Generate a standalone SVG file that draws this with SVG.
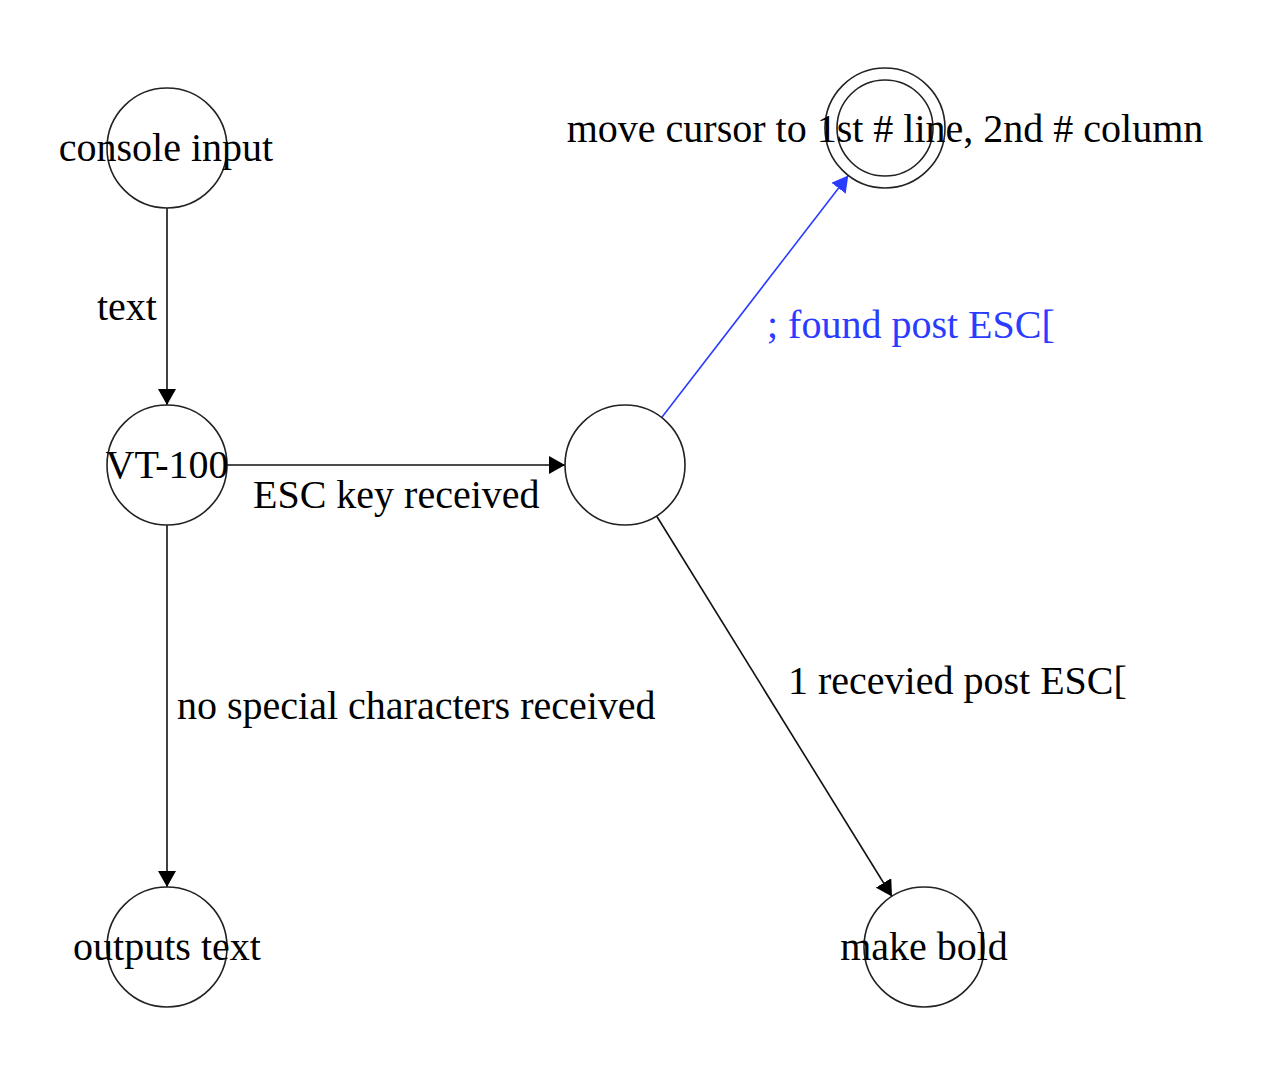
<svg xmlns="http://www.w3.org/2000/svg" width="1286" height="1084" viewBox="0 0 1286 1084">
<style>
  .node { fill: #ffffff; stroke: #222222; stroke-width: 1.6; }
  .ring { fill: none; stroke: #222222; stroke-width: 1.6; }
  .lbl { font-family: "Liberation Serif", "Times New Roman", serif; font-size: 40px; fill: #000000; }
  .mid { text-anchor: middle; }
  .edge { fill: none; stroke: #111111; stroke-width: 1.6; }
  .blue { stroke: #2a3cff; }
  .bluetxt { fill: #2a3cff; }
</style>
<defs>
  <marker id="arr" viewBox="0 0 16 18" refX="16" refY="9" markerWidth="16" markerHeight="18" markerUnits="userSpaceOnUse" orient="auto">
    <path d="M0,0 L16,9 L0,18 z" fill="#000000"/>
  </marker>
  <marker id="arrBlue" viewBox="0 0 16 18" refX="16" refY="9" markerWidth="16" markerHeight="18" markerUnits="userSpaceOnUse" orient="auto">
    <path d="M0,0 L16,9 L0,18 z" fill="#2a3cff"/>
  </marker>
</defs>
<rect width="1286" height="1084" fill="#ffffff"/>

<g id="connectors">
  <g id="e-console-vt">
    <path class="edge" d="M167,208 L167,405" marker-end="url(#arr)"/>
    <text class="lbl" x="97" y="320">text</text>
  </g>
  <g id="e-vt-esc">
    <path class="edge" d="M227,465 L565,465" marker-end="url(#arr)"/>
    <text class="lbl" x="253" y="508">ESC key received</text>
  </g>
  <g id="e-vt-out">
    <path class="edge" d="M167,525 L167,887" marker-end="url(#arr)"/>
    <text class="lbl" x="177" y="719">no special characters received</text>
  </g>
  <g id="e-esc-move">
    <path class="edge blue" d="M661.7,417.5 L848.3,175.5" marker-end="url(#arrBlue)"/>
    <text class="lbl bluetxt" x="767" y="338">; found post ESC[</text>
  </g>
  <g id="e-esc-bold">
    <path class="edge" d="M656.6,516 L892,896.5" marker-end="url(#arr)"/>
    <text class="lbl" x="788" y="694">1 recevied post ESC[</text>
  </g>
</g>

<g id="node-console">
  <circle class="node" cx="167" cy="148" r="60"/>
  <text class="lbl mid" x="166" y="161">console input</text>
</g>
<g id="node-vt100">
  <circle class="node" cx="167" cy="465" r="60"/>
  <text class="lbl mid" x="167" y="478">VT-100</text>
</g>
<g id="node-esc">
  <circle class="node" cx="625" cy="465" r="60"/>
</g>
<g id="node-move">
  <circle class="ring" cx="885" cy="128" r="60"/>
  <circle class="ring" cx="885" cy="128" r="48"/>
  <text class="lbl mid" x="885" y="142">move cursor to 1st # line, 2nd # column</text>
</g>
<g id="node-out">
  <circle class="node" cx="167" cy="947" r="60"/>
  <text class="lbl mid" x="167" y="960">outputs text</text>
</g>
<g id="node-bold">
  <circle class="node" cx="924" cy="947" r="60"/>
  <text class="lbl mid" x="924" y="960">make bold</text>
</g>
</svg>
